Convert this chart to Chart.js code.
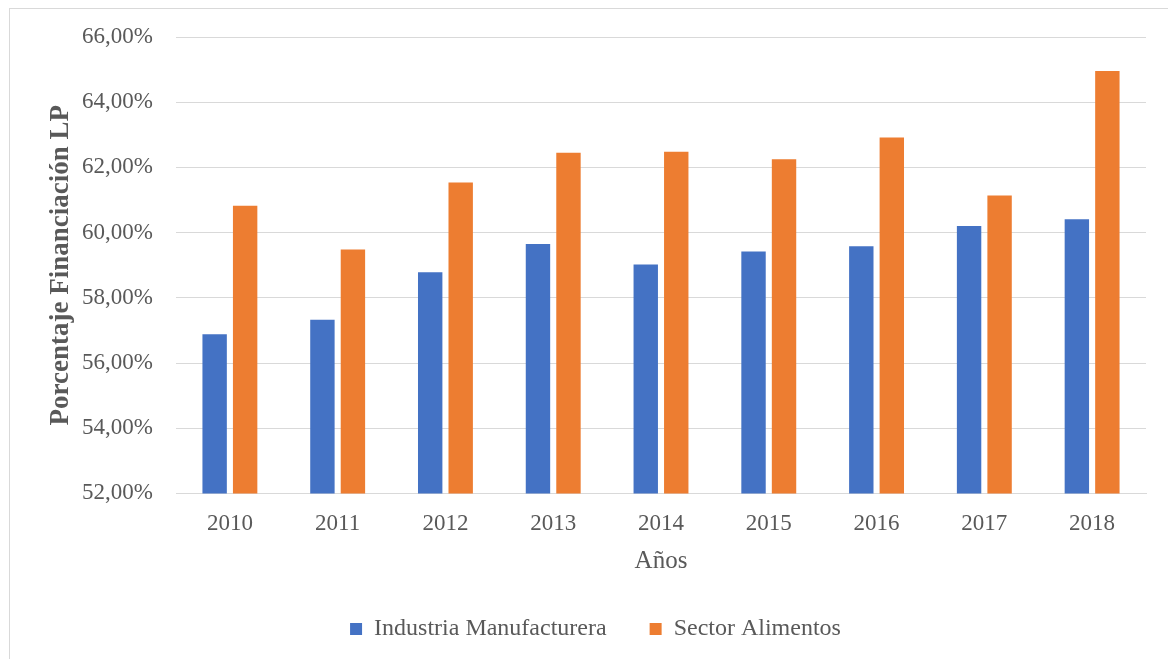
<!DOCTYPE html>
<html>
<head>
<meta charset="utf-8">
<title>Porcentaje Financiación LP</title>
<script src="https://cdn.jsdelivr.net/npm/chart.js@4/dist/chart.umd.min.js"></script>
<style>
  html, body { margin: 0; padding: 0; background: #fff; overflow: hidden; }
  #wrap { position: relative; width: 1168px; height: 659px; }
  #frame {
    position: absolute; left: 9px; top: 8px;
    width: 1200px; height: 700px;
    border: 1px solid #d9d9d9;
  }
  #chart-canvas { position: absolute; left: 0; top: 0; }
</style>
</head>
<body>
<div id="wrap">
  <div id="frame"></div>
  <canvas id="chart-canvas" width="1168" height="659"></canvas>
</div>
<script>
// Data (percent)
const years = ["2010", "2011", "2012", "2013", "2014", "2015", "2016", "2017", "2018"];
const industria = [56.88, 57.33, 58.78, 59.65, 59.02, 59.42, 59.58, 60.20, 60.41];
const alimentos = [60.82, 59.48, 61.54, 62.45, 62.48, 62.25, 62.92, 61.14, 64.96];

const yMin = 52;
const yMax = 66;
const yStep = 2;

const textColor = "#595959";
const gridColor = "#d9d9d9";
const serif = "'Liberation Serif', 'Times New Roman', serif";

function formatPct(v) {
  return v.toFixed(2).replace(".", ",") + "%";
}

const ctx = document.getElementById("chart-canvas").getContext("2d");
const myChart = new Chart(ctx, {
  type: "bar",
  data: {
    labels: years,
    datasets: [
      {
        label: "Industria Manufacturera",
        data: industria,
        backgroundColor: "#4472C4",
        categoryPercentage: 0.566,
        barPercentage: 0.8,
      },
      {
        label: "Sector Alimentos",
        data: alimentos,
        backgroundColor: "#ED7D31",
        categoryPercentage: 0.566,
        barPercentage: 0.8,
      },
    ],
  },
  options: {
    responsive: false,
    animation: false,
    layout: {
      // left padding also centres the legend like the original
      padding: { top: 37, right: 22, left: 45, bottom: 8 },
    },
    plugins: {
      legend: {
        position: "bottom",
        labels: {
          color: textColor,
          font: { family: serif, size: 24 },
          boxWidth: 12,
          boxHeight: 12,
          padding: 43,
        },
      },
      tooltip: { enabled: false },
    },
    scales: {
      x: {
        grid: { display: false, drawTicks: false },
        border: { display: true, color: gridColor, width: 1 },
        ticks: {
          color: textColor,
          font: { family: serif, size: 23 },
          padding: 17,
        },
        title: {
          display: true,
          text: "Años",
          color: textColor,
          font: { family: serif, size: 25 },
          padding: { top: -9, bottom: -2 },
        },
      },
      y: {
        min: yMin,
        max: yMax,
        grid: { color: gridColor, lineWidth: 1, drawTicks: false },
        border: { display: false },
        ticks: {
          stepSize: yStep,
          color: textColor,
          font: { family: serif, size: 23 },
          padding: 23,
          callback: (v) => formatPct(v),
        },
        title: {
          display: true,
          text: "Porcentaje Financiación LP",
          color: textColor,
          font: { family: serif, size: 27, weight: "bold" },
          padding: { top: 0, bottom: 0 },
        },
        afterFit: (scale) => {
          scale.width = 131;
        },
      },
    },
  },
});
</script>
</body>
</html>
